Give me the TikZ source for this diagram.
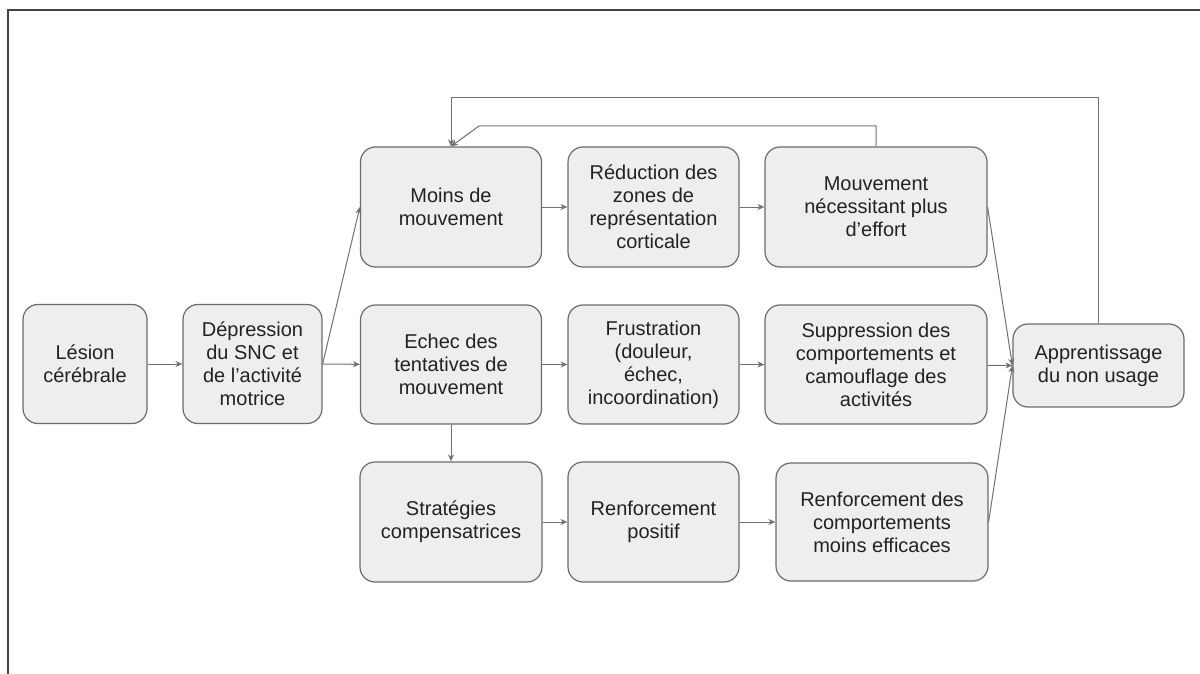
\documentclass[tikz,border=0pt]{standalone}
\usepackage{fontspec}
\setmainfont{Liberation Sans}
\usetikzlibrary{arrows.meta}
\definecolor{boxfill}{HTML}{EEEEEE}
\definecolor{boxline}{HTML}{6B6B6B}
\definecolor{arrowgray}{HTML}{707070}
\definecolor{framegray}{HTML}{444444}
\definecolor{textgray}{HTML}{222222}
\begin{document}
\begin{tikzpicture}[x=0.5pt,y=-0.5pt,
		box/.style={draw=boxline, fill=boxfill, rounded corners=7.5pt, align=center, text=textgray,
			font=\fontsize{10}{11.5}\selectfont, inner sep=0pt, line width=0.6pt},
		flow/.style={draw=arrowgray, line width=0.5pt, -{Stealth[length=3.5pt,width=3pt]}}]
		\useasboundingbox (0,0) rectangle (1200,674);
		\draw [framegray, line width=1pt] (8,674) -- (8,10) -- (1200,10);
		\node [box, minimum width=62pt, minimum height=59.5pt] (lesion) at (85,364) {Lésion\\cérébrale};
		\node [box, minimum width=69.5pt, minimum height=59.5pt] (depression) at (252.5,364) {Dépression\\du SNC et\\de l’activité\\motrice};
		\node [box, minimum width=90.5pt, minimum height=60pt] (moins) at (451,207) {Moins de\\mouvement};
		\node [box, minimum width=85.5pt, minimum height=60pt] (reduction) at (653.5,207) {Réduction des\\zones de\\représentation\\corticale};
		\node [box, minimum width=111pt, minimum height=60pt] (effort) at (876,207) {Mouvement\\nécessitant plus\\d’effort};
		\node [box, minimum width=90.5pt, minimum height=59.5pt] (echec) at (451,364.5) {Echec des\\tentatives de\\mouvement};
		\node [box, minimum width=85.5pt, minimum height=59.5pt] (frustration) at (653.5,364.5) {Frustration\\(douleur,\\échec,\\incoordination)};
		\node [box, minimum width=111pt, minimum height=59.5pt] (suppression) at (876,364.5) {Suppression des\\comportements et\\camouflage des\\activités};
		\node [box, minimum width=91pt, minimum height=60pt] (strategies) at (451,522) {Stratégies\\compensatrices};
		\node [box, minimum width=85.5pt, minimum height=60pt] (renfpos) at (653.5,522) {Renforcement\\positif};
		\node [box, minimum width=106pt, minimum height=59pt] (renfcomp) at (882,522) {Renforcement des\\comportements\\moins efficaces};
		\node [box, minimum width=85.5pt, minimum height=41.5pt] (apprent) at (1098.5,365.5) {Apprentissage\\du non usage};
		\coordinate (outertop) at (451,98);
		\coordinate (innerbend) at (479,126);
		\draw [flow] (lesion) -- (depression);
		\draw [flow] (depression) -- (echec);
		\draw [flow] (depression.east) -- (moins.west);
		\draw [flow] (moins) -- (reduction);
		\draw [flow] (reduction) -- (effort);
		\draw [flow] (echec) -- (frustration);
		\draw [flow] (frustration) -- (suppression);
		\draw [flow] (echec) -- (strategies);
		\draw [flow] (strategies) -- (renfpos);
		\draw [flow] (renfpos) -- (renfcomp);
		\draw [flow] (effort.east) -- (apprent.west);
		\draw [flow] (suppression) -- (apprent.west);
		\draw [flow] (renfcomp.east) -- (apprent.west);
		\draw [flow] (apprent.north) |- (outertop) -- (moins.north);
		\draw [flow] (effort.north) |- (innerbend) -- (moins.north);
\end{tikzpicture}
\end{document}
